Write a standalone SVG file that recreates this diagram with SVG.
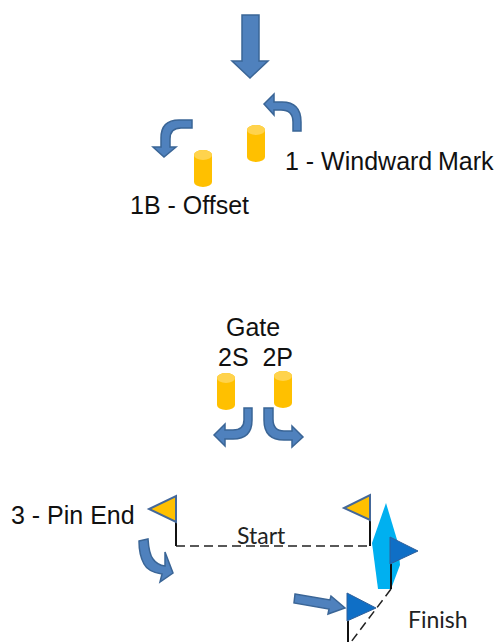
<svg xmlns="http://www.w3.org/2000/svg" width="496" height="642" viewBox="0 0 496 642">
<style>
.t{font-family:"Liberation Sans",Arial,sans-serif;font-size:25px;fill:#111}
.c{font-family:Lato,"Liberation Sans",sans-serif;font-size:23px;fill:#222}
.a{fill:#4f81bd;stroke:#3a6596;stroke-width:1.5;stroke-linejoin:miter}
.body{fill:#ffc000}
.top{fill:#ffd34d}
.fy{fill:#ffc000;stroke:#44689a;stroke-width:2}
.fb{fill:#0f6fc6;stroke:#2f5f9a;stroke-width:1}
.pole{stroke:#111;stroke-width:2;fill:none}
.dash{stroke:#222;stroke-width:1.5;stroke-dasharray:9 5;fill:none}
</style>
<defs>
<g id="cyl"><path class="body" d="M0 5A9 5 0 0 1 18 5V32A9 5 0 0 1 0 32Z"/><ellipse class="top" cx="9" cy="5" rx="9" ry="5"/></g>
</defs>
<g id="connectors">
<path class="dash" d="M176 546H371"/>
<path class="dash" d="M391 589L351 642"/>
</g>
<g id="arrow-main"><path class="a" d="M242 15H259V61H268L250 78L232 61H242Z"/></g>
<g id="arrow-windward"><path class="a" d="M301 131H293V122Q293 110 281 110H274V115L264 104L274 94V102H282Q301 102 301 122Z"/></g>
<g id="arrow-offset"><path class="a" d="M192 120V128H181Q170 128 170 139V147H176L164 157L153 147H161V138Q161 120 179 120Z"/></g>
<g id="mark-1"><use href="#cyl" x="247" y="125"/></g>
<g id="mark-1b"><use href="#cyl" x="194" y="150"/></g>
<g id="label-1"><text class="t" x="285" y="170">1 - Windward<tspan x="438">Mark</tspan></text></g>
<g id="label-1b"><text class="t" x="130" y="214">1B - Offset</text></g>
<g id="label-gate"><text class="t" x="226" y="336">Gate</text><text class="t" x="218" y="366" xml:space="preserve">2S  2P</text></g>
<g id="mark-2s"><use href="#cyl" x="217" y="373"/></g>
<g id="mark-2p"><use href="#cyl" x="274" y="371"/></g>
<g id="arrow-2s"><path class="a" d="M244 408H252V420Q252 439 233 439H225V446L214 435L225 424V430H233Q244 430 244 420Z"/></g>
<g id="arrow-2p"><path class="a" d="M264 408H273V419Q273 431 284 431H292V426L303 437L292 447V440H284Q264 440 264 420Z"/></g>
<g id="label-3"><text class="t" x="11" y="524">3 - Pin End</text></g>
<g id="flag-pin"><path class="pole" d="M176 521V546"/><path class="fy" d="M176 496V522L149 509Z"/></g>
<g id="arrow-3"><path class="a" d="M139 541L148 539Q149 554 153 559Q157 565 165 566L165 552L173 573L160 582L162 574Q148 572 144 564Q139 555 139 541Z"/></g>
<g id="label-start"><text class="c" x="237" y="544">Start</text></g>
<g id="flag-start"><path class="pole" d="M370 520V546"/><path class="fy" d="M370 495V520L344 508Z"/></g>
<g id="boat"><path fill="#00b0f0" d="M386 503L398 543L400 565L391 589H378L372 543Z"/></g>
<g id="flag-finish"><path class="pole" d="M391 564V589"/><path class="fb" d="M390 537V564L418 551Z"/></g>
<g id="flag-finish-2"><path class="pole" d="M348 621V642"/><path class="fb" d="M347 593V621L376 608Z"/></g>
<g id="arrow-finish"><path class="a" d="M295 594L330 600L331 596L345 608L328 614L329 609L294 603Z"/></g>
<g id="label-finish"><text class="c" x="408" y="628">Finish</text></g>
</svg>
